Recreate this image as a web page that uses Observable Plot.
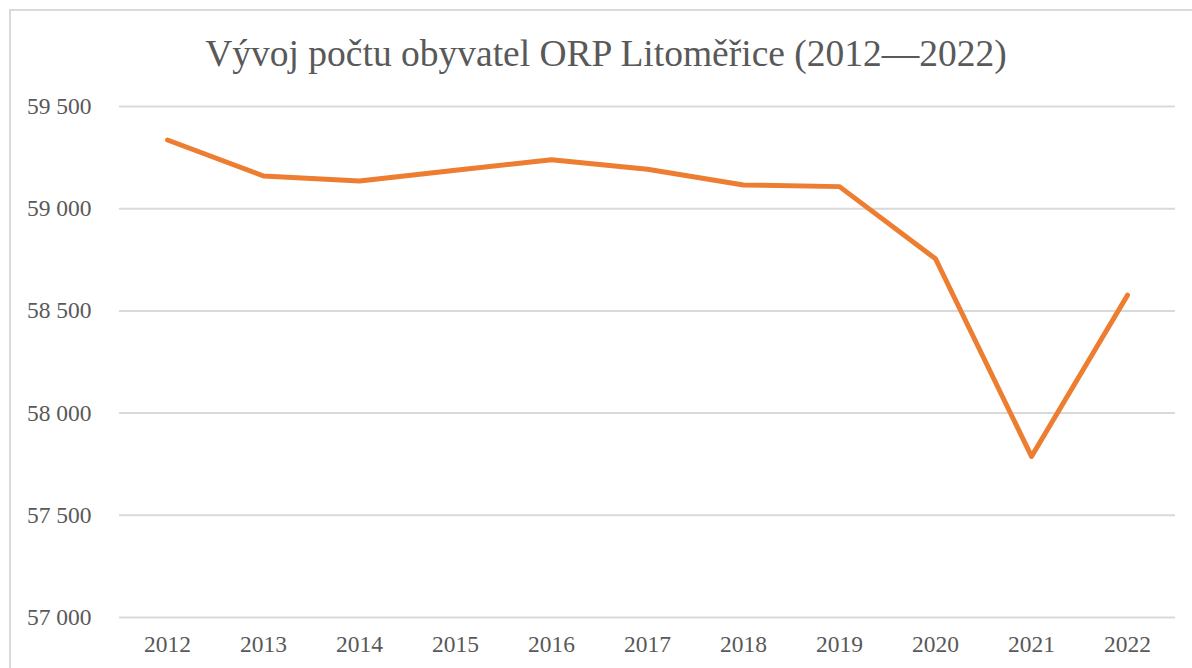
<!DOCTYPE html>
<html>
<head>
<meta charset="utf-8">
<script src="https://cdn.jsdelivr.net/npm/d3@7"></script>
<script src="https://cdn.jsdelivr.net/npm/@observablehq/plot@0.6"></script>
<style>
  html, body { margin: 0; padding: 0; background: #fff; }
  #wrap { position: relative; width: 1192px; height: 668px; overflow: hidden; }
  #frame { position: absolute; left: 9px; top: 9px; width: 1200px; height: 700px;
           border-left: 2px solid #d9d9d9; border-top: 2px solid #d9d9d9; box-sizing: border-box; }
  #title { position: absolute; left: 0; width: 1212px; top: 35px; text-align: center;
           font-family: "Liberation Serif", "Times New Roman", serif; font-size: 37.5px;
           color: #595959; line-height: 1; white-space: nowrap; }
  #chart { position: absolute; left: 0; top: 90px; }
</style>
</head>
<body>
<div id="wrap">
  <div id="frame"></div>
  <div id="title">Vývoj počtu obyvatel ORP Litoměřice (2012—2022)</div>
  <div id="chart"></div>
</div>
<script>
const years = ["2012","2013","2014","2015","2016","2017","2018","2019","2020","2021","2022"];
const population = [59336, 59160, 59135, 59188, 59240, 59193, 59116, 59108, 58755, 57788, 58577];
const yTicks = [57000, 57500, 58000, 58500, 59000, 59500];

const data = years.map((y, i) => ({year: y, value: population[i]}));
const fmt = d => d3.format(",")(d).replace(/,/g, " ");

const chart = Plot.plot({
  width: 1192,
  height: 578,
  marginLeft: 119,
  marginRight: 17,
  marginTop: 16,
  marginBottom: 51,
  style: {fontFamily: "'Liberation Serif', 'Times New Roman', serif", fontSize: "23.5px", color: "#595959", background: "transparent"},
  x: {type: "point", domain: years, padding: 0.5, label: null},
  y: {domain: [57000, 59500], label: null},
  marks: [
    Plot.gridY(yTicks, {stroke: "#d9d9d9", strokeOpacity: 1, strokeWidth: 2}),
    Plot.axisY(yTicks, {tickSize: 0, tickPadding: 28, tickFormat: fmt, fill: "#595959", label: null}),
    Plot.axisX(years, {tickSize: 0, tickPadding: 18, fill: "#595959", label: null}),
    Plot.line(data, {x: "year", y: "value", stroke: "#ED7D31", strokeWidth: 5, strokeLinecap: "round", strokeLinejoin: "round"})
  ]
});
document.getElementById("chart").appendChild(chart);
</script>
</body>
</html>
